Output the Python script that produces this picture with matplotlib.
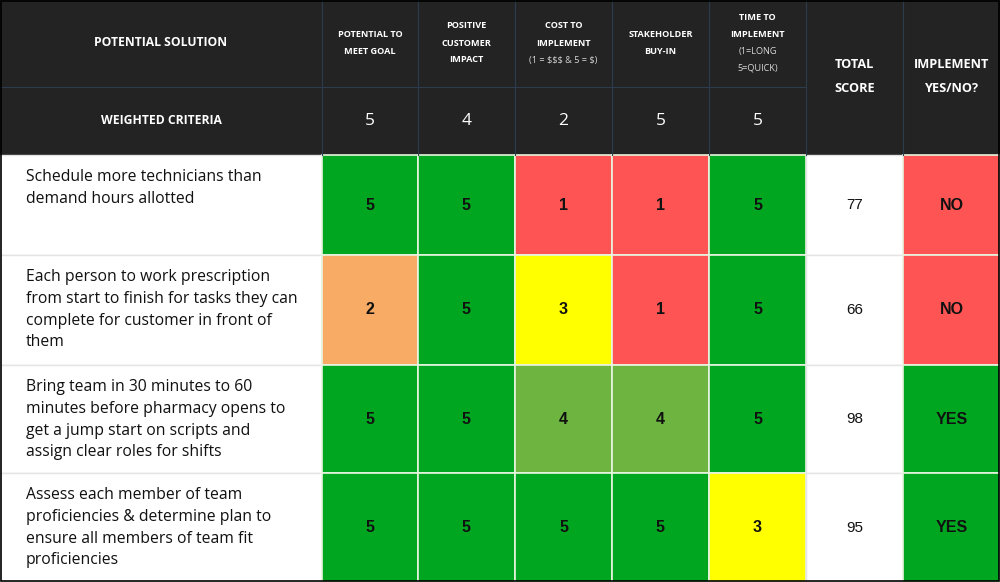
import matplotlib.pyplot as plt
from matplotlib.patches import Rectangle

# Table content
solutions = [
    "Schedule more technicians than\ndemand hours allotted",
    "Each person to work prescription\nfrom start to finish for tasks they can\ncomplete for customer in front of\nthem",
    "Bring team in 30 minutes to 60\nminutes before pharmacy opens to\nget a jump start on scripts and\nassign clear roles for shifts",
    "Assess each member of team\nproficiencies & determine plan to\nensure all members of team fit\nproficiencies",
]
criteria = ["POTENTIAL TO\nMEET GOAL", "POSITIVE\nCUSTOMER\nIMPACT", "COST TO\nIMPLEMENT",
            "STAKEHOLDER\nBUY-IN", "TIME TO\nIMPLEMENT"]
criteria_notes = ["", "", "(1 = $$$ & 5 = $)", "", "(1=LONG\n5=QUICK)"]
weights = [5, 4, 2, 5, 5]
scores = [
    [5, 5, 1, 1, 5],
    [2, 5, 3, 1, 5],
    [5, 5, 4, 4, 5],
    [5, 5, 5, 5, 3],
]
totals = [77, 66, 98, 95]
implement = ["NO", "NO", "YES", "YES"]

score_colors = {5: "#00a61f", 4: "#6db540", 3: "#ffff00", 2: "#f7ab64", 1: "#ff5454"}
answer_colors = {"YES": "#00a61f", "NO": "#ff5454"}
dark = "#232323"
header_line = "#2c3c4c"

col_x = [0, 322, 418, 515, 612, 709, 806, 903, 1000]
row_y = [155, 255, 365, 473, 582]
head_split = 87

main_font = ["Open Sans", "DejaVu Sans"]
num_font = ["Liberation Sans", "DejaVu Sans"]

fig = plt.figure(figsize=(10, 5.82), dpi=100)
ax = fig.add_axes([0, 0, 1, 1])
ax.set_xlim(0, 1000)
ax.set_ylim(582, 0)
ax.axis("off")

# header background
ax.add_patch(Rectangle((0, 0), 1000, row_y[0], color=dark, zorder=1))
for x in col_x[1:-1]:
    ax.plot([x, x], [0, row_y[0]], color=header_line, lw=0.8, zorder=2)
ax.plot([0, col_x[6]], [head_split, head_split], color=header_line, lw=0.8, zorder=2)

ax.text(161, 43, "POTENTIAL SOLUTION", color="white", fontsize=8.7, fontweight="bold",
        family=main_font, ha="center", va="center")
ax.text(161, 121, "WEIGHTED CRITERIA", color="white", fontsize=8.7, fontweight="bold",
        family=main_font, ha="center", va="center")

for j, (name, note, w) in enumerate(zip(criteria, criteria_notes, weights)):
    cx = (col_x[j + 1] + col_x[j + 2]) / 2
    lines = name.split("\n")
    notes = note.split("\n") if note else []
    n = len(lines) + len(notes)
    start = 43 - (n - 1) * 17 / 2
    for k, line in enumerate(lines):
        ax.text(cx, start + k * 17, line, color="white", fontsize=6.6, fontweight="bold",
                family=main_font, ha="center", va="center")
    for k, line in enumerate(notes):
        ax.text(cx, start + (len(lines) + k) * 17, line, color="#d8d8d8", fontsize=6.6,
                family=main_font, ha="center", va="center", parse_math=False)
    ax.text(cx, 121, str(w), color="white", fontsize=12.5, family=main_font,
            ha="center", va="center")

for label, c in [("TOTAL\nSCORE", 6), ("IMPLEMENT\nYES/NO?", 7)]:
    cx = (col_x[c] + col_x[c + 1]) / 2
    for k, line in enumerate(label.split("\n")):
        ax.text(cx, 64 + k * 25, line, color="white", fontsize=9.2, fontweight="bold",
                family=main_font, ha="center", va="center")

# body rows
for i, sol in enumerate(solutions):
    y0, y1 = row_y[i], row_y[i + 1]
    cy = (y0 + y1) / 2
    ax.add_patch(Rectangle((0, y0), col_x[1], y1 - y0, facecolor="white",
                           edgecolor="#e4e4e4", lw=1, zorder=1))
    for k, line in enumerate(sol.split("\n")):
        ax.text(26, y0 + 22 + k * 21.8, line, color="#111111", fontsize=11.3,
                family=main_font, ha="left", va="center")
    for j, s in enumerate(scores[i]):
        x0, x1 = col_x[j + 1], col_x[j + 2]
        ax.add_patch(Rectangle((x0, y0), x1 - x0, y1 - y0, facecolor=score_colors[s],
                               edgecolor="#e8f5e0", lw=1.2, zorder=1))
        ax.text((x0 + x1) / 2, cy, str(s), color="#111111", fontsize=11.5,
                fontweight="bold", family=num_font, ha="center", va="center", zorder=3)
    x0, x1 = col_x[6], col_x[7]
    ax.add_patch(Rectangle((x0, y0), x1 - x0, y1 - y0, facecolor="white",
                           edgecolor="#e4e4e4", lw=1, zorder=1))
    ax.text((x0 + x1) / 2, cy, str(totals[i]), color="#111111", fontsize=11,
            family=num_font, ha="center", va="center")
    x0, x1 = col_x[7], col_x[8]
    ax.add_patch(Rectangle((x0, y0), x1 - x0, y1 - y0, facecolor=answer_colors[implement[i]],
                           edgecolor="#e8f5e0", lw=1.2, zorder=1))
    ax.text((x0 + x1) / 2, cy, implement[i], color="#111111", fontsize=11.5,
            fontweight="bold", family=num_font, ha="center", va="center", zorder=3)

# outer frame
ax.add_patch(Rectangle((0.6, 0.6), 998.8, 580.8, fill=False, edgecolor="black", lw=1.2, zorder=5))

fig.savefig("out.png", dpi=100)
